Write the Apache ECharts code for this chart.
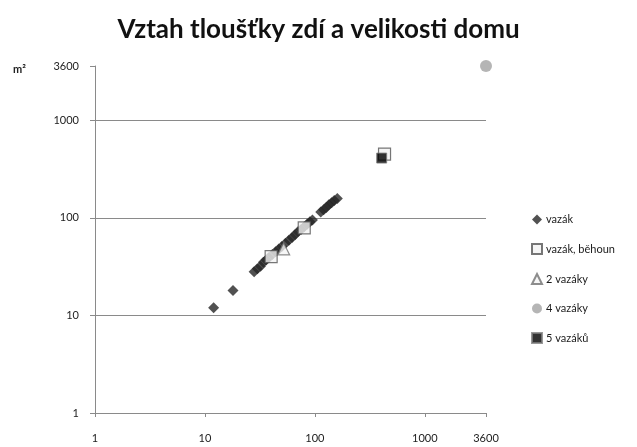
<!DOCTYPE html>
<html>
<head>
<meta charset="utf-8">
<script src="https://cdn.jsdelivr.net/npm/echarts@6/dist/echarts.min.js"></script>
<style>
  html, body { margin: 0; padding: 0; background: #fff; }
  #chart { width: 637px; height: 447px; }
</style>
</head>
<body>
<div id="chart"></div>
<script>
// Wall thickness (x) vs. house floor area in m² (y), both on log scales
const vazakX = [12, 18, 28, 30, 32, 34, 36, 38, 41, 44, 47, 50, 54, 58, 62, 66, 70, 75, 80, 85, 90, 95, 113, 120, 127, 134, 142, 150, 160];
const vazakY = [12, 18, 28, 30, 32, 35, 37, 39, 42, 45, 48, 51, 55, 59, 63, 67, 72, 76, 81, 86, 91, 95, 115, 121, 128, 136, 143, 151, 158];

const behounX = [40, 80, 430];
const behounY = [40, 79, 450];

const dvaX = [52];
const dvaY = [48];

const ctyriX = [3600];
const ctyriY = [3600];

const petX = [405];
const petY = [410];

const axisMin = 1;
const axisMax = 3600;

const seriesNames = ['vazák', 'vazák, běhoun', '2 vazáky', '4 vazáky', '5 vazáků'];

const pairs = (xs, ys) => xs.map((x, i) => [x, ys[i]]);

const font = 'Lato, "DejaVu Sans", sans-serif';
const axisColor = '#8a8a8a';
const plainNumber = v => String(Math.round(v));

const chart = echarts.init(document.getElementById('chart'), null, { renderer: 'canvas' });

chart.setOption({
  animation: false,
  backgroundColor: '#ffffff',
  title: {
    text: 'Vztah tloušťky zdí a velikosti domu',
    left: 'center',
    top: 12,
    textStyle: { fontFamily: font, fontWeight: 'bold', fontSize: 26, color: '#111' }
  },
  graphic: [{
    type: 'text',
    left: 13,
    top: 64,
    style: { text: 'm²', fontFamily: font, fontWeight: 'bold', fontSize: 11, fill: '#222' }
  }],
  legend: {
    orient: 'vertical',
    left: 526,
    top: 209,
    itemWidth: 10,
    itemHeight: 10,
    itemGap: 18,
    data: seriesNames,
    textStyle: { fontFamily: font, fontSize: 11, color: '#1a1a1a', padding: [0, 0, 0, -1] }
  },
  grid: { left: 95, right: 151, top: 66, bottom: 34, containLabel: false },
  xAxis: {
    type: 'log',
    logBase: 10,
    min: axisMin,
    max: axisMax,
    axisLine: { show: true, lineStyle: { color: axisColor, width: 1 } },
    axisTick: { show: true, length: 4, lineStyle: { color: axisColor } },
    axisLabel: { margin: 20, fontFamily: font, fontSize: 11, color: '#222', formatter: plainNumber },
    splitLine: { show: false }
  },
  yAxis: {
    type: 'log',
    logBase: 10,
    min: axisMin,
    max: axisMax,
    axisLine: { show: true, lineStyle: { color: axisColor, width: 1 } },
    axisTick: { show: true, length: 5, lineStyle: { color: axisColor } },
    axisLabel: { margin: 16, fontFamily: font, fontSize: 11, color: '#222', formatter: plainNumber },
    splitLine: { show: true, showMinLine: false, showMaxLine: false, lineStyle: { color: axisColor, width: 1 } }
  },
  series: [
    {
      name: seriesNames[0], type: 'scatter', symbol: 'diamond', symbolSize: [11, 11],
      itemStyle: { color: '#262626' },
      data: pairs(vazakX, vazakY)
    },
    {
      name: seriesNames[1], type: 'scatter', symbol: 'rect', symbolSize: 12,
      itemStyle: { color: '#f2f2f2', borderColor: '#555555', borderWidth: 1.2 },
      data: pairs(behounX, behounY)
    },
    {
      name: seriesNames[2], type: 'scatter', symbol: 'triangle', symbolSize: 12,
      itemStyle: { color: '#f4f4f4', borderColor: '#707070', borderWidth: 1.2 },
      data: pairs(dvaX, dvaY)
    },
    {
      name: seriesNames[3], type: 'scatter', symbol: 'circle', symbolSize: 12, clip: false,
      itemStyle: { color: '#a3a3a3' },
      data: pairs(ctyriX, ctyriY)
    },
    {
      name: seriesNames[4], type: 'scatter', symbol: 'rect', symbolSize: 10,
      itemStyle: { color: '#000000', borderColor: '#808080', borderWidth: 1 },
      data: pairs(petX, petY)
    }
  ]
});
</script>
</body>
</html>
